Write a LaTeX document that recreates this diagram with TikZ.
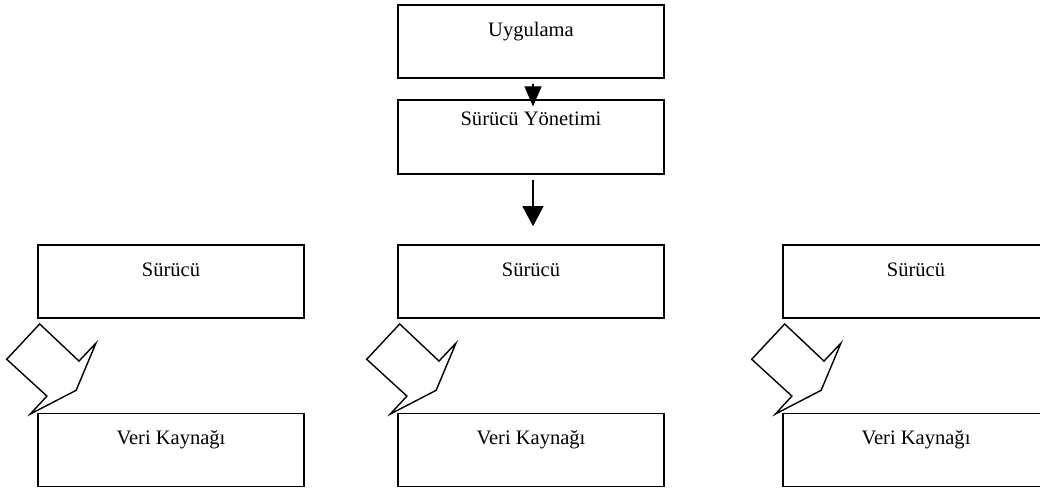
\documentclass[tikz,border=0pt]{standalone}
\usepackage{fontspec}
\setmainfont{Liberation Serif}
\usepackage{tikz}
\usetikzlibrary{arrows.meta,positioning}

\begin{document}
\begin{tikzpicture}[x=0.025cm, y=-0.025cm,
  gbox/.style={rectangle, draw, line width=1.1pt, minimum width=6.65cm, inner ysep=0pt,
    text height=0.785cm, text depth=1.04cm, font=\fontsize{14.6}{17}\selectfont},
  flow/.style={line width=0.8pt, -{Triangle[length=0.5cm, width=#1]}},
  callout/.style={line width=1pt, line join=miter}
]
  \clip (0,0) rectangle (1040,492);
  \node[gbox] (app) at (531,41.5) {Uygulama};
  \node[gbox, text height=0.63cm, text depth=1.22cm] (mgr) at (531,137) {Sürücü Yönetimi};
  \node[gbox] (drv1) at (171,281.5) {Sürücü};
  \node[gbox] (drv2) at (531,281.5) {Sürücü};
  \node[gbox] (drv3) at (916,281.5) {Sürücü};
  \node[gbox] (src1) at (171,450) {Veri Kaynağı};
  \node[gbox] (src2) at (531,450) {Veri Kaynağı};
  \node[gbox] (src3) at (916,450) {Veri Kaynağı};
  \draw[flow=0.425cm, shorten <=0.12cm, shorten >=-0.18cm] ([xshift=0.05cm]app.south) -- ([xshift=0.05cm]mgr.north);
  \draw[flow=0.525cm, shorten <=0.12cm, shorten >=0.45cm] ([xshift=0.05cm]mgr.south) -- ([xshift=0.05cm]drv2.north);
  % callouts from each driver down to its data source
  \foreach \i in {1,2,3} {
    \begin{scope}[shift={(drv\i.south west)}]
      \draw[callout] (2.5,5.2) -- (-30.5,40.5) -- (9.7,77.3) -- (-6.8,95.2) -- (39,71.5)
        -- (58.7,24.4) -- (41.8,42.3) -- cycle;
    \end{scope}
  }
\end{tikzpicture}
\end{document}
